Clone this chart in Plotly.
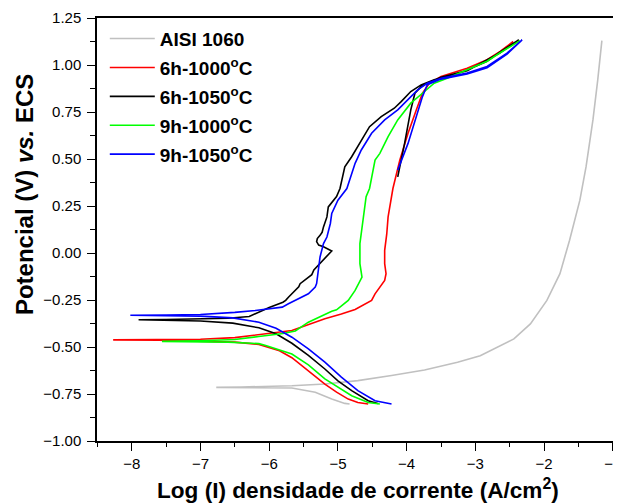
import plotly.graph_objects as go

# ---- data (log current density, potential V) ----
aisi_x = [-4.83, -4.90, -5.09, -5.33, -5.67, -6.15, -6.50, -6.77,
          -6.40, -6.0, -5.67, -5.19, -4.71, -4.22, -3.74, -3.26, -2.93, -2.44, -2.20,
          -1.96, -1.77, -1.63, -1.48, -1.39, -1.29, -1.22, -1.16]
aisi_y = [-0.803, -0.800, -0.777, -0.741, -0.718, -0.715, -0.715, -0.715,
          -0.713, -0.710, -0.706, -0.697, -0.679, -0.652, -0.622, -0.581, -0.546, -0.457, -0.377,
          -0.252, -0.110, 0.068, 0.281, 0.459, 0.708, 0.921, 1.130]

r6_1000_x = [-4.56, -4.71, -4.85, -5.02, -5.19, -5.43, -5.67, -5.85, -6.05, -6.15, -6.50, -7.01, -7.60, -8.27,
             -7.50, -7.00, -6.50, -6.05, -5.67, -5.19, -4.95, -4.75, -4.51, -4.46, -4.32, -4.30, -4.32, -4.32,
             -4.29, -4.27, -4.20, -4.10, -3.98, -3.86, -3.77, -3.67, -3.50, -3.12, -2.83, -2.64, -2.45]
r6_1000_y = [-0.803, -0.795, -0.777, -0.740, -0.697, -0.625, -0.557, -0.520, -0.499, -0.486, -0.474, -0.469, -0.464, -0.462,
             -0.461, -0.459, -0.450, -0.430, -0.412, -0.350, -0.325, -0.300, -0.252, -0.217, -0.146, -0.110, -0.057, 0.014,
             0.100, 0.192, 0.343, 0.494, 0.637, 0.761, 0.850, 0.903, 0.939, 0.983, 1.028, 1.072, 1.125]

b6_1050_x = [-4.42, -4.56, -4.80, -5.00, -5.19, -5.43, -5.67, -5.90, -6.15, -6.53, -7.00, -7.50, -7.90,
             -7.50, -7.00, -6.60, -6.29, -6.00, -5.80, -5.76, -5.72, -5.60, -5.57, -5.55, -5.43, -5.38, -5.35,
             -5.26, -5.09, -5.21, -5.28, -5.31, -5.30, -5.26, -5.23, -5.21, -5.16, -5.14, -5.07, -5.02, -4.97,
             -4.90, -4.80, -4.66, -4.54, -4.37, -4.18, -4.08, -3.94, -3.79, -3.60, -3.31, -3.12, -2.83, -2.64, -2.37,
             -2.64, -3.12, -3.50, -3.70, -3.79, -3.88, -3.94, -4.03, -4.13]
b6_1050_y = [-0.800, -0.786, -0.732, -0.680, -0.617, -0.545, -0.480, -0.430, -0.398, -0.373, -0.362, -0.357, -0.355,
             -0.354, -0.352, -0.347, -0.338, -0.290, -0.262, -0.252, -0.235, -0.195, -0.180, -0.163, -0.128, -0.115, -0.090,
             -0.057, 0.011, 0.033, 0.042, 0.060, 0.077, 0.094, 0.110, 0.139, 0.192, 0.245, 0.281, 0.300, 0.343,
             0.459, 0.512, 0.601, 0.672, 0.725, 0.770, 0.805, 0.859, 0.894, 0.921, 0.948, 0.974, 1.020, 1.070, 1.134,
             1.065, 0.970, 0.935, 0.905, 0.885, 0.850, 0.761, 0.583, 0.405]

g9_1000_x = [-4.39, -4.56, -4.80, -5.00, -5.19, -5.43, -5.67, -6.05, -6.15, -6.60, -7.00, -7.56,
             -7.30, -7.00, -6.50, -6.15, -5.80, -5.62, -5.43, -5.09, -5.02, -4.85, -4.75, -4.65, -4.68, -4.68,
             -4.63, -4.59, -4.54, -4.46, -4.39, -4.27, -4.13, -3.94, -3.74, -3.60, -3.41, -3.12, -2.83, -2.64, -2.35]
g9_1000_y = [-0.803, -0.795, -0.759, -0.715, -0.670, -0.595, -0.537, -0.492, -0.482, -0.474, -0.471, -0.470,
             -0.469, -0.467, -0.460, -0.444, -0.428, -0.415, -0.368, -0.310, -0.302, -0.252, -0.199, -0.128, -0.057, 0.050,
             0.192, 0.300, 0.343, 0.494, 0.530, 0.619, 0.708, 0.797, 0.859, 0.903, 0.930, 0.975, 1.020, 1.065, 1.130]

b9_1050_x = [-4.22, -4.35, -4.46, -4.71, -4.95, -5.19, -5.43, -5.67, -5.90, -6.15, -6.53, -7.00, -7.50, -8.02,
             -7.50, -7.00, -6.50, -6.20, -5.81, -5.72, -5.43, -5.33, -5.31, -5.28, -5.26, -5.21, -5.16, -5.11,
             -5.09, -5.00, -4.87, -4.75, -4.66, -4.51, -4.32, -4.13, -3.98, -3.84, -3.70, -3.50, -3.12, -2.83,
             -2.54, -2.32,
             -2.54, -2.83, -3.12, -3.50, -3.70, -3.77, -3.86, -3.98, -4.13]
b9_1050_y = [-0.803, -0.795, -0.786, -0.732, -0.660, -0.581, -0.510, -0.448, -0.400, -0.368, -0.345, -0.336, -0.332, -0.331,
             -0.330, -0.327, -0.316, -0.306, -0.288, -0.270, -0.217, -0.181, -0.163, -0.092, -0.021, 0.050, 0.085, 0.157,
             0.210, 0.281, 0.343, 0.477, 0.548, 0.637, 0.708, 0.761, 0.814, 0.868, 0.903, 0.930, 0.957, 0.992,
             1.063, 1.134,
             1.058, 0.985, 0.952, 0.925, 0.895, 0.832, 0.725, 0.583, 0.441]

names = ["AISI 1060", "6h-1000<sup>o</sup>C", "6h-1050<sup>o</sup>C",
         "9h-1000<sup>o</sup>C", "9h-1050<sup>o</sup>C"]
colors = ["#c0c0c0", "#ff0000", "#000000", "#00ff00", "#0000ff"]
xs = [aisi_x, r6_1000_x, b6_1050_x, g9_1000_x, b9_1050_x]
ys = [aisi_y, r6_1000_y, b6_1050_y, g9_1000_y, b9_1050_y]

x_title = "Log (I) densidade de corrente (A/cm<sup>2</sup>)"
y_title = "Potencial (V) <i>vs.</i> ECS"

FONT = "Liberation Sans, Arial, sans-serif"

fig = go.Figure()
for i, (n, c, x, y) in enumerate(zip(names, colors, xs, ys)):
    fig.add_trace(go.Scatter(x=x, y=y, mode="lines", name=n,
                             line=dict(color=c, width=1.6), legendgroup=f"g{i}"))

# the page body has an 8px margin, so the figure is sized to fill the rest of the window
fig.update_layout(
    width=613, height=495,
    margin=dict(l=89, r=0, t=10, b=62),
    paper_bgcolor="white", plot_bgcolor="white",
    font=dict(family=FONT, color="black"),
    showlegend=True,
    legend=dict(x=0.015, y=0.996, xanchor="left", yanchor="top",
                bgcolor="rgba(0,0,0,0)", borderwidth=0,
                font=dict(family=FONT, size=19, color="black", weight="bold"),
                tracegroupgap=1.2, itemwidth=45),
    xaxis=dict(range=[-8.505, -0.94], tickmode="linear", tick0=-8, dtick=1,
               ticks="outside", ticklen=8, tickwidth=1.3, tickcolor="black",
               showline=True, linewidth=1.5, linecolor="black", mirror=True,
               showgrid=False, zeroline=False,
               tickfont=dict(family=FONT, size=15, color="black"),
               ticklabeloverflow="allow",
               minor=dict(dtick=0.5, tick0=-8, ticks="outside", ticklen=4,
                          tickwidth=1.3, tickcolor="black", showgrid=False)),
    yaxis=dict(range=[-1.0, 1.25], tickmode="linear", tick0=-1.0, dtick=0.25,
               tickformat=".2f",
               ticks="outside", ticklen=8, tickwidth=1.3, tickcolor="black",
               showline=True, linewidth=1.5, linecolor="black",
               showgrid=False, zeroline=False, ticklabelstandoff=3,
               tickfont=dict(family=FONT, size=15, color="black"),
               minor=dict(dtick=0.125, tick0=-1.0, ticks="outside", ticklen=5,
                          tickwidth=1.3, tickcolor="black", showgrid=False)),
    annotations=[
        dict(text=x_title, xref="paper", yref="paper", x=0.502, y=-0.1135,
             xanchor="center", yanchor="middle", showarrow=False,
             font=dict(family=FONT, size=22.6, color="black", weight="bold")),
        dict(text=y_title, xref="paper", yref="paper", x=-0.139, y=0.583,
             xanchor="center", yanchor="middle", showarrow=False, textangle=-90,
             font=dict(family=FONT, size=24, color="black", weight="bold")),
    ],
)

fig.write_html("out.html")
